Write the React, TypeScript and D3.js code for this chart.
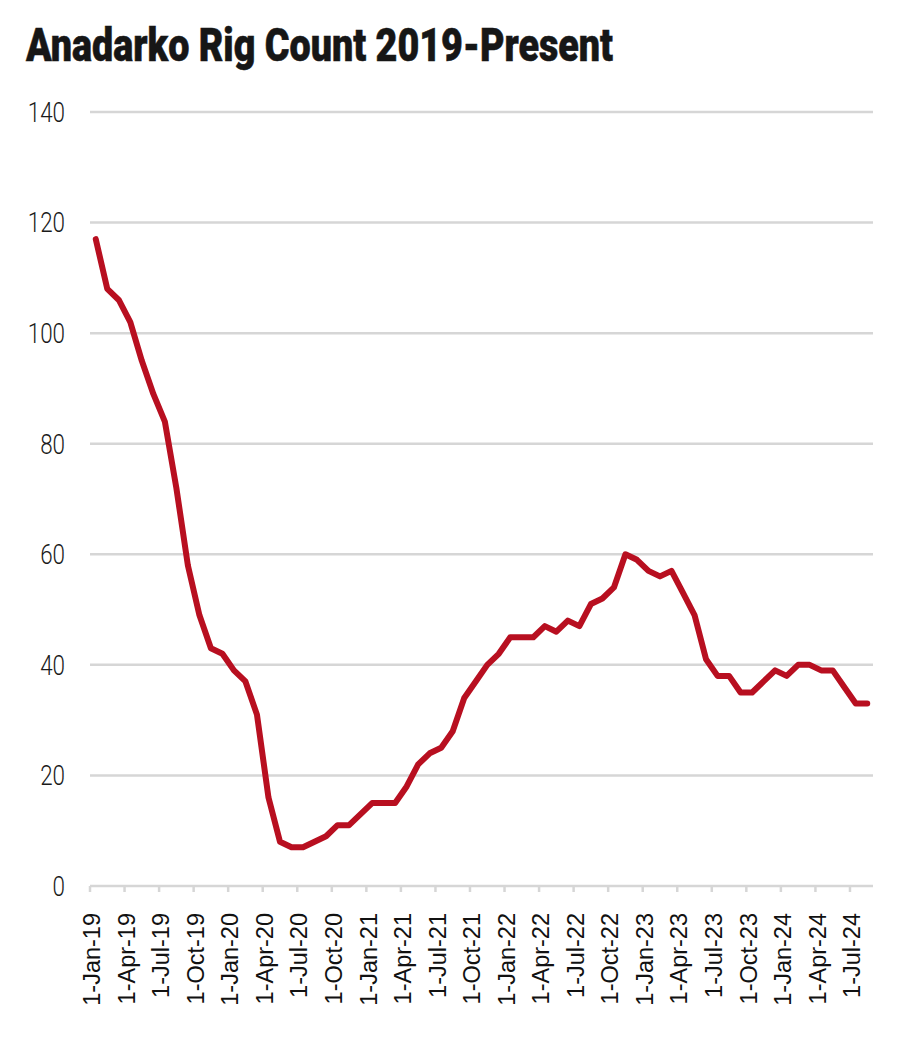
import React from "react";
import * as d3 from "d3";

const title = "Anadarko Rig Count 2019-Present";

// Monthly observations, Jan 2019 .. Aug 2024
const months: string[] = d3
  .timeMonth.range(new Date(2019, 0, 1), new Date(2024, 8, 1))
  .map((d) => d3.timeFormat("%Y-%m")(d));

const rigCount: number[] = [
  117, 108, 106, 102, 95, 89, 84, 72, 58, 49, 43, 42,
  39, 37, 31, 16, 8, 7, 7, 8, 9, 11, 11, 13,
  15, 15, 15, 18, 22, 24, 25, 28, 34, 37, 40, 42,
  45, 45, 45, 47, 46, 48, 47, 51, 52, 54, 60, 59,
  57, 56, 57, 53, 49, 41, 38, 38, 35, 35, 37, 39,
  38, 40, 40, 39, 39, 36, 33, 33,
];

const yTicks: number[] = [0, 20, 40, 60, 80, 100, 120, 140];

const xTickLabels: string[] = [
  "1-Jan-19", "1-Apr-19", "1-Jul-19", "1-Oct-19",
  "1-Jan-20", "1-Apr-20", "1-Jul-20", "1-Oct-20",
  "1-Jan-21", "1-Apr-21", "1-Jul-21", "1-Oct-21",
  "1-Jan-22", "1-Apr-22", "1-Jul-22", "1-Oct-22",
  "1-Jan-23", "1-Apr-23", "1-Jul-23", "1-Oct-23",
  "1-Jan-24", "1-Apr-24", "1-Jul-24",
];

const W = 900;
const H = 1041;
const left = 90;
const right = 873;
const top = 112;
const bottom = 886;

export default function App() {
  const x = d3.scaleBand<string>().domain(months).range([left, right]).padding(0);
  const y = d3.scaleLinear().domain([0, 140]).range([bottom, top]);
  const bw = x.bandwidth();

  const line = d3
    .line<number>()
    .x((_, i) => (x(months[i]) as number) + bw / 2)
    .y((d) => y(d));

  const tickMonths = xTickLabels.map((_, i) => months[i * 3]);

  return (
    <svg
      width={W}
      height={H}
      viewBox={`0 0 ${W} ${H}`}
      style={{ position: "absolute", left: 0, top: 0, background: "#fff" }}
    >
      <rect x={0} y={0} width={W} height={H} fill="#fff" />
      <text
        x={26}
        y={61}
        fontFamily="Roboto, 'DejaVu Sans Condensed', sans-serif"
        fontWeight={900}
        fontSize={46}
        fill="#161616"
        stroke="#161616"
        strokeWidth={0.6}
        textLength={587}
        lengthAdjust="spacingAndGlyphs"
      >
        {title}
      </text>

      {yTicks.map((t) => (
        <g key={t}>
          <line x1={left} x2={right} y1={y(t)} y2={y(t)} stroke="#d6d6d6" strokeWidth={2.5} />
          <text
            transform={`translate(65,${y(t)}) scale(0.8,1)`}
            dy="0.35em"
            textAnchor="end"
            fontFamily="Roboto, sans-serif"
            fontWeight={300}
            fontSize={28}
            fill="#1a1a1a"
          >
            {t}
          </text>
        </g>
      ))}

      {tickMonths.map((m, i) => {
        const tx = x(m) as number;
        return (
          <g key={m}>
            <line x1={tx} x2={tx} y1={bottom} y2={bottom + 6} stroke="#d6d6d6" strokeWidth={2.5} />
            <text
              transform={`translate(${tx + 2},913) rotate(-90)`}
              dy="0.35em"
              textAnchor="end"
              fontFamily="'Liberation Sans', Arial, sans-serif"
              fontSize={23.5}
              fill="#111"
            >
              {xTickLabels[i]}
            </text>
          </g>
        );
      })}

      <path
        d={line(rigCount) || ""}
        fill="none"
        stroke="#b80f20"
        strokeWidth={6}
        strokeLinejoin="round"
        strokeLinecap="round"
      />
    </svg>
  );
}
